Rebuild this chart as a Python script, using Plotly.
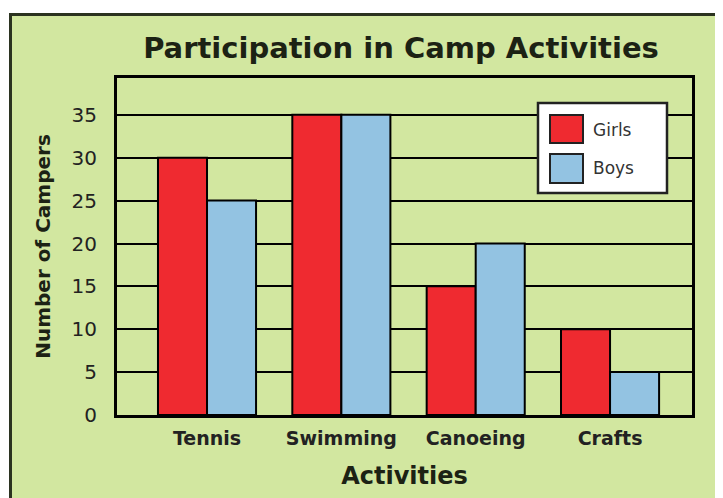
import plotly.graph_objects as go

activities = ["Tennis", "Swimming", "Canoeing", "Crafts"]
girls = [30, 35, 15, 10]
boys = [25, 35, 20, 5]
series_names = ["Girls", "Boys"]
y_ticks = [0, 5, 10, 15, 20, 25, 30, 35]

RED = "#ef2a30"
BLUE = "#93c3e2"
GREEN = "#d2e7a0"
CREAM = "#f7f5cf"
DARK = "#1c2214"
FONT = "DejaVu Sans"

OFF = 8  # page body margin offset
W, H = 723 - OFF, 498 - OFF
# plot area in reference screen coords: x 117..692, y 78..415
L, T = 117 - OFF, 78 - OFF
R = W - (692 - OFF)
B = H - (415 - OFF)
PW, PH = W - L - R, H - T - B

def px(x):
    return (x - OFF - L) / PW

def py(y):
    return (H - B - (y - OFF)) / PH

fig = go.Figure()
fig.add_trace(go.Bar(x=activities, y=girls, name=series_names[0],
                     marker=dict(color=RED, line=dict(color="black", width=2))))
fig.add_trace(go.Bar(x=activities, y=boys, name=series_names[1],
                     marker=dict(color=BLUE, line=dict(color="black", width=2))))

shapes = [
    # outer green frame
    dict(type="rect", xref="paper", yref="paper", x0=px(10.5), x1=2, y0=-1, y1=py(14.5),
         fillcolor=GREEN, line=dict(color="#2b3320", width=3), layer="below"),
    # legend box
    dict(type="rect", xref="paper", yref="paper", x0=px(538), x1=px(667), y0=py(193), y1=py(103),
         fillcolor="white", line=dict(color="#222222", width=2.5), layer="above"),
    dict(type="rect", xref="paper", yref="paper", x0=px(550), x1=px(583), y0=py(143), y1=py(115),
         fillcolor=RED, line=dict(color="#222222", width=2), layer="above"),
    dict(type="rect", xref="paper", yref="paper", x0=px(550), x1=px(583), y0=py(183), y1=py(154),
         fillcolor=BLUE, line=dict(color="#222222", width=2), layer="above"),
]
annotations = [
    dict(text=series_names[0], xref="paper", yref="paper", x=px(591), y=py(130),
         xanchor="left", yanchor="middle", showarrow=False,
         font=dict(family=FONT, size=17, color="#333333")),
    dict(text=series_names[1], xref="paper", yref="paper", x=px(591), y=py(168),
         xanchor="left", yanchor="middle", showarrow=False,
         font=dict(family=FONT, size=17, color="#333333")),
]

fig.update_layout(
    width=W, height=H,
    margin=dict(l=L, r=R, t=T, b=B, autoexpand=False),
    paper_bgcolor="white",
    plot_bgcolor=CREAM,
    barmode="group", bargap=0.27, bargroupgap=0,
    showlegend=False,
    title=dict(text="<b>Participation in Camp Activities</b>", x=(401 - OFF) / W, xanchor="center",
               y=1 - (48 - OFF) / H, yanchor="middle",
               font=dict(family=FONT, size=29, color=DARK)),
    font=dict(family=FONT, color=DARK),
    shapes=shapes,
    annotations=annotations,
    xaxis=dict(range=[-0.67, 3.61], showgrid=False, showline=True, mirror=True,
               linecolor="black", linewidth=3, ticks="",
               tickfont=dict(family=FONT, size=19, color="#222222", weight="bold"),
               ticklabelstandoff=4,
               title=dict(text="<b>Activities</b>", standoff=20,
                          font=dict(family=FONT, size=24, color=DARK))),
    yaxis=dict(range=[0, 39.3], tickvals=y_ticks, showgrid=True, gridcolor="black", gridwidth=2,
               zeroline=False, showline=True, mirror=True, linecolor="black", linewidth=3,
               ticks="", ticklabelstandoff=13,
               tickfont=dict(family=FONT, size=20, color="#222222"),
               title=dict(text="<b>Number of Campers</b>", standoff=16,
                          font=dict(family=FONT, size=20, color=DARK))),
)

fig.write_html("out.html")
